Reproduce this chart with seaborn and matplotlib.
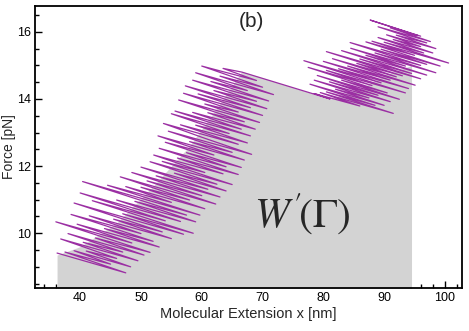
import matplotlib
matplotlib.use('Agg')
import matplotlib.pyplot as plt
import pandas as pd
import seaborn as sns
from matplotlib.ticker import MultipleLocator

# trajectory (extension in nm, force in pN), in time order
ext = [36.2, 47.5, 37.5, 45.0, 39.0, 48.3, 41.0, 46.0, 36.8, 49.5,
       40.5, 47.0, 38.0, 50.5, 42.5, 51.5, 36.0, 48.5, 39.5, 53.0,
       44.0, 52.0, 38.5, 50.0, 41.5, 55.0, 45.5, 53.5, 39.0, 57.0,
       47.0, 58.6, 42.0, 54.0, 40.0, 56.5, 46.0, 59.0, 49.0, 57.5,
       40.4, 59.7, 44.5, 55.0, 47.5, 60.5, 50.0, 58.0, 46.6, 62.3,
       51.0, 60.0, 48.5, 63.0, 52.5, 61.0, 50.0, 64.0, 55.5, 62.5,
       51.5, 65.0, 53.5, 60.5, 52.1, 63.5, 56.0, 66.0, 53.0, 64.0,
       57.5, 66.5, 54.0, 62.0, 52.8, 67.0, 58.0, 65.0, 54.5, 68.2,
       60.0, 53.7, 66.0, 56.5, 67.5, 59.0, 64.5, 55.0, 68.0, 55.6,
       66.5, 58.5, 68.8, 61.0, 67.0, 56.2, 69.5, 60.5, 66.0, 57.0,
       70.0, 59.4, 68.0, 57.3, 70.7, 62.0, 69.0, 58.5, 71.0, 61.5,
       67.5, 59.0, 71.8, 63.0, 70.0, 60.0, 69.0, 63.5, 66.6, 81.1,
       78.5, 86.0, 79.5, 91.5, 80.5, 88.5, 77.8, 90.0, 82.0, 87.5,
       78.5, 91.0, 81.0, 89.0, 79.0, 92.5, 83.0, 90.5, 77.5, 88.0,
       80.5, 93.5, 76.8, 89.5, 82.5, 94.0, 80.0, 91.0, 84.0, 95.1,
       81.5, 92.0, 85.5, 93.0, 80.5, 96.0, 86.0, 94.5, 83.0, 97.0,
       87.0, 93.5, 84.5, 98.5, 88.5, 96.0, 84.4, 97.0, 89.5, 99.2,
       87.0, 95.0, 88.0, 100.6, 90.0, 96.5, 89.0, 98.0, 91.5, 96.0,
       90.4, 98.5, 92.0, 97.0, 89.0, 97.6, 91.0, 95.5, 87.7, 96.0]
force = [9.41, 8.82, 9.44, 9.08, 9.48, 9.00, 9.47, 9.25, 9.83, 9.18,
         9.73, 9.44, 9.99, 9.35, 9.86, 9.43, 10.34, 9.71, 10.27, 9.59,
         10.14, 9.76, 10.56, 9.99, 10.52, 9.84, 10.42, 10.04, 10.90, 9.97,
         10.58, 10.00, 10.97, 10.37, 11.20, 10.35, 10.99, 10.34, 10.95, 10.54,
         11.54, 10.54, 11.43, 10.92, 11.39, 10.73, 11.37, 10.99, 11.68, 10.87,
         11.56, 11.12, 11.81, 11.08, 11.71, 11.31, 11.97, 11.26, 11.79, 11.46,
         12.13, 11.45, 12.14, 11.81, 12.33, 11.77, 12.24, 11.75, 12.53, 11.98,
         12.40, 11.96, 12.71, 12.33, 12.90, 12.18, 12.73, 12.41, 13.04, 12.35,
         12.86, 13.27, 12.65, 13.23, 12.69, 13.22, 12.97, 13.56, 12.90, 13.64,
         13.10, 13.60, 13.10, 13.59, 13.32, 13.97, 13.30, 13.85, 13.61, 14.17,
         13.51, 14.15, 13.74, 14.39, 13.71, 14.25, 13.93, 14.56, 13.94, 14.52,
         14.25, 14.78, 14.13, 14.68, 14.35, 14.98, 14.55, 14.91, 14.80, 14.00,
         14.16, 13.79, 14.19, 13.57, 14.21, 13.81, 14.44, 13.81, 14.29, 14.03,
         14.56, 13.92, 14.51, 14.11, 14.70, 13.99, 14.56, 14.18, 14.94, 14.40,
         14.85, 14.18, 15.14, 14.48, 14.90, 14.31, 15.12, 14.56, 14.98, 14.41,
         15.20, 14.66, 15.06, 14.69, 15.41, 14.60, 15.19, 14.76, 15.44, 14.71,
         15.30, 14.98, 15.51, 14.78, 15.37, 15.00, 15.68, 15.03, 15.48, 14.98,
         15.70, 15.30, 15.72, 15.07, 15.69, 15.37, 15.83, 15.37, 15.77, 15.56,
         15.91, 15.50, 15.90, 15.67, 16.15, 15.71, 16.12, 15.89, 16.35, 15.87]

# upper edge of the shaded work area
area_ext = [36.2, 40.0, 46.0, 52.0, 58.0, 62.0, 66.6, 81.1, 86.0, 90.0, 94.5]
area_force = [9.35, 9.6, 10.3, 11.4, 12.6, 13.6, 14.82, 14.0, 14.3, 14.7, 15.0]

df = pd.DataFrame({'x': ext, 'F': force})

sns.set_style('ticks')
plt.rcParams['font.family'] = ['Liberation Sans', 'DejaVu Sans']
plt.rcParams['mathtext.fontset'] = 'stix'

fig = plt.figure(figsize=(4.69, 3.31), dpi=100)
ax = fig.add_axes([0.075, 0.13, 0.910, 0.852])

ax.fill_between(area_ext, area_force, 8.0, color='#d3d3d3', linewidth=0)
sns.lineplot(data=df, x='x', y='F', sort=False, estimator=None,
             color='#9b2fa3', linewidth=0.9, ax=ax)

ax.set_xlim(32.6, 102.8)
ax.set_ylim(8.37, 16.77)
ax.xaxis.set_major_locator(MultipleLocator(10))
ax.xaxis.set_minor_locator(MultipleLocator(2))
ax.yaxis.set_major_locator(MultipleLocator(2))
ax.yaxis.set_minor_locator(MultipleLocator(0.5))
ax.tick_params(which='both', direction='in', top=False, right=False,
               labelsize=9, colors='black', width=1.0)
ax.tick_params(which='major', length=5, pad=3)
ax.tick_params(which='minor', length=3)
for s in ax.spines.values():
    s.set_visible(True)
    s.set_linewidth(1.3)
    s.set_color('black')

ax.set_xlabel('Molecular Extension x [nm]', fontsize=10.5, labelpad=2)
ax.set_ylabel('Force [pN]', fontsize=10, labelpad=1)

ax.text(68.1, 16.3, '(b)', fontsize=15, ha='center', va='center')
ax.text(76.5, 10.55, r"$W^{\prime}\!(\Gamma)$", fontsize=30, ha='center', va='center')

fig.savefig('out.png', dpi=100)
